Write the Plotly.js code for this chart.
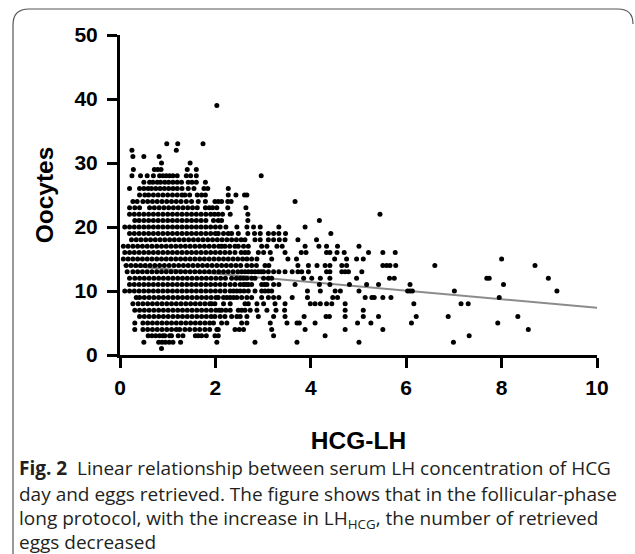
<!DOCTYPE html>
<html>
<head>
<meta charset="utf-8">
<script src="https://cdn.plot.ly/plotly-3.0.1.min.js"></script>
<style>html,body{margin:0;padding:0;background:#fff;}</style>
</head>
<body>
<div id="chart" style="width:635px;height:554px;"></div>
<script>
// HCG-day LH (x) values read per oocyte count (y)
const lh_y39 = [2.03];
const lh_y33 = [0.98, 1.21, 1.74];
const lh_y32 = [0.25, 1.18];
const lh_y31 = [0.27, 0.50, 0.82];
const lh_y30 = [0.87, 1.47];
const lh_y29 = [0.28, 0.72, 0.79, 0.86, 1.41, 1.60];
const lh_y28 = [0.25, 0.43, 0.57, 0.70, 0.83, 0.90, 0.97, 1.04, 1.11, 1.20, 1.39, 1.48, 1.60, 2.96];
const lh_y27 = [0.50, 0.62, 0.69, 0.78, 0.85, 0.94, 1.02, 1.11, 1.20, 1.29, 1.43, 1.51, 1.60, 1.79];
const lh_y26 = [0.20, 0.41, 0.50, 0.59, 0.66, 0.75, 0.84, 0.93, 1.02, 1.11, 1.20, 1.30, 1.43, 1.55, 1.76, 1.84, 2.27];
const lh_y25 = [0.41, 0.52, 0.60, 0.70, 0.80, 0.90, 1.00, 1.10, 1.20, 1.30, 1.36, 1.46, 1.62, 1.71, 1.79, 2.27, 2.43, 2.61, 2.66];
const lh_y24 = [0.27, 0.36, 0.48, 0.58, 0.68, 0.78, 0.88, 0.98, 1.08, 1.18, 1.28, 1.39, 1.50, 1.64, 1.79, 1.99, 2.06, 2.13, 2.26, 2.33, 3.67];
const lh_y23 = [0.20, 0.31, 0.41, 0.62, 0.72, 0.82, 0.92, 1.02, 1.12, 1.22, 1.32, 1.42, 1.52, 1.62, 1.79, 1.87, 1.94, 2.03, 2.26, 2.64];
const lh_y22 = [0.20, 0.30, 0.40, 0.50, 0.60, 0.70, 0.80, 0.90, 1.00, 1.10, 1.20, 1.30, 1.40, 1.50, 1.60, 1.70, 1.80, 1.90, 1.98, 2.06, 2.15, 2.31, 2.68, 5.45];
const lh_y21 = [0.31, 0.40, 0.50, 0.60, 0.70, 0.80, 0.90, 1.00, 1.10, 1.20, 1.30, 1.40, 1.50, 1.60, 1.70, 1.80, 1.96, 2.06, 2.13, 2.68, 4.18];
const lh_y20 = [0.10, 0.20, 0.30, 0.40, 0.50, 0.60, 0.70, 0.80, 0.90, 1.00, 1.10, 1.20, 1.30, 1.40, 1.50, 1.60, 1.70, 1.80, 1.90, 2.00, 2.10, 2.22, 2.45, 2.66, 2.80, 2.94, 3.33, 3.88];
const lh_y19 = [0.20, 0.30, 0.40, 0.50, 0.60, 0.70, 0.80, 0.90, 1.00, 1.10, 1.20, 1.30, 1.40, 1.50, 1.60, 1.70, 1.80, 1.90, 2.00, 2.06, 2.17, 2.27, 2.34, 2.48, 2.68, 2.82, 2.94, 3.11, 3.22, 3.33, 3.47, 4.42];
const lh_y18 = [0.24, 0.34, 0.44, 0.54, 0.64, 0.74, 0.84, 0.94, 1.04, 1.14, 1.24, 1.34, 1.44, 1.54, 1.64, 1.74, 1.84, 1.94, 2.04, 2.14, 2.24, 2.34, 2.44, 2.54, 2.62, 2.83, 2.94, 3.11, 3.22, 3.34, 3.46, 3.73, 4.12];
const lh_y17 = [0.07, 0.17, 0.27, 0.37, 0.47, 0.57, 0.67, 0.77, 0.87, 0.97, 1.07, 1.17, 1.27, 1.37, 1.47, 1.57, 1.67, 1.77, 1.87, 1.97, 2.07, 2.13, 2.20, 2.30, 2.41, 2.48, 2.59, 2.69, 2.97, 3.08, 3.29, 3.40, 3.88, 4.17, 4.33, 4.56, 5.01];
const lh_y16 = [0.10, 0.20, 0.30, 0.40, 0.50, 0.60, 0.70, 0.80, 0.90, 1.00, 1.10, 1.20, 1.30, 1.40, 1.50, 1.60, 1.70, 1.80, 1.90, 2.00, 2.10, 2.20, 2.30, 2.41, 2.54, 2.62, 2.69, 2.90, 3.01, 3.15, 3.46, 3.80, 3.90, 4.33, 4.40, 4.55, 4.70, 5.21, 5.51, 5.77];
const lh_y15 = [0.07, 0.17, 0.27, 0.37, 0.47, 0.57, 0.67, 0.77, 0.87, 0.97, 1.07, 1.17, 1.27, 1.37, 1.47, 1.57, 1.67, 1.77, 1.87, 1.97, 2.07, 2.17, 2.27, 2.37, 2.47, 2.57, 2.66, 2.76, 2.87, 3.18, 3.52, 3.70, 4.50, 4.75, 4.96, 5.10, 8.00];
const lh_y14 = [0.13, 0.23, 0.33, 0.43, 0.53, 0.63, 0.73, 0.83, 0.93, 1.03, 1.13, 1.23, 1.33, 1.43, 1.53, 1.63, 1.73, 1.83, 1.93, 2.03, 2.13, 2.23, 2.33, 2.43, 2.53, 2.66, 2.76, 2.86, 3.04, 3.12, 3.73, 3.95, 4.13, 4.30, 4.40, 4.65, 4.75, 5.51, 5.59, 5.66, 5.78, 6.60, 8.70];
const lh_y13 = [0.15, 0.27, 0.37, 0.47, 0.57, 0.67, 0.77, 0.87, 0.97, 1.07, 1.17, 1.27, 1.37, 1.47, 1.57, 1.67, 1.77, 1.87, 1.97, 2.07, 2.17, 2.27, 2.37, 2.47, 2.55, 2.62, 2.69, 2.76, 2.83, 2.90, 2.96, 3.01, 3.11, 3.22, 3.33, 3.46, 3.61, 3.73, 3.81, 3.95, 4.33, 4.40, 4.65, 4.72, 4.79, 5.07];
const lh_y12 = [0.20, 0.31, 0.41, 0.51, 0.61, 0.71, 0.81, 0.91, 1.01, 1.11, 1.21, 1.31, 1.41, 1.51, 1.61, 1.71, 1.81, 1.91, 2.01, 2.11, 2.21, 2.34, 2.44, 2.52, 2.59, 2.66, 2.76, 2.83, 3.01, 3.11, 3.18, 3.85, 4.02, 4.20, 4.40, 4.96, 5.65, 5.75, 7.69, 7.74, 8.98];
const lh_y11 = [0.20, 0.30, 0.40, 0.50, 0.60, 0.70, 0.80, 0.90, 1.00, 1.10, 1.20, 1.30, 1.40, 1.50, 1.60, 1.70, 1.80, 1.90, 2.00, 2.10, 2.20, 2.31, 2.41, 2.52, 2.59, 2.64, 2.69, 2.76, 2.97, 3.03, 3.08, 3.22, 3.33, 3.67, 4.18, 4.40, 4.81, 5.17, 5.42, 6.08, 8.04];
const lh_y10 = [0.10, 0.20, 0.30, 0.40, 0.50, 0.60, 0.70, 0.80, 0.90, 1.00, 1.10, 1.20, 1.30, 1.40, 1.50, 1.60, 1.70, 1.80, 1.90, 2.00, 2.10, 2.20, 2.31, 2.38, 2.45, 2.52, 2.60, 2.69, 2.83, 2.97, 3.04, 3.11, 3.18, 3.93, 4.20, 4.51, 4.62, 5.01, 6.03, 6.08, 6.13, 7.01, 9.16];
const lh_y9 = [0.34, 0.41, 0.51, 0.61, 0.71, 0.81, 0.91, 1.01, 1.11, 1.21, 1.31, 1.41, 1.51, 1.61, 1.71, 1.81, 1.91, 2.01, 2.06, 2.17, 2.24, 2.31, 2.38, 2.45, 2.55, 2.66, 2.76, 2.97, 3.11, 3.22, 3.33, 3.61, 3.93, 4.46, 4.56, 5.14, 5.28, 5.33, 5.51, 5.68, 7.95];
const lh_y8 = [0.27, 0.38, 0.48, 0.58, 0.68, 0.78, 0.88, 0.98, 1.08, 1.18, 1.28, 1.38, 1.48, 1.58, 1.68, 1.78, 1.88, 1.92, 1.99, 2.17, 2.31, 2.62, 2.69, 2.87, 3.01, 3.25, 3.46, 3.99, 4.09, 4.20, 4.33, 4.44, 4.72, 6.16, 7.15, 7.30];
const lh_y7 = [0.31, 0.41, 0.51, 0.61, 0.71, 0.81, 0.91, 1.01, 1.11, 1.21, 1.31, 1.41, 1.51, 1.61, 1.71, 1.81, 1.91, 2.01, 2.08, 2.13, 2.22, 2.31, 2.48, 2.55, 2.62, 2.73, 2.87, 3.08, 3.27, 3.45, 4.72, 5.10];
const lh_y6 = [0.41, 0.51, 0.61, 0.71, 0.81, 0.91, 1.01, 1.11, 1.21, 1.31, 1.41, 1.51, 1.61, 1.71, 1.81, 1.91, 1.99, 2.10, 2.20, 2.34, 2.45, 2.52, 2.66, 2.90, 3.22, 3.46, 3.86, 4.32, 4.39, 4.72, 5.10, 5.42, 6.21, 6.88, 8.34];
const lh_y5 = [0.31, 0.48, 0.58, 0.68, 0.78, 0.88, 0.98, 1.08, 1.18, 1.28, 1.38, 1.48, 1.58, 1.68, 1.78, 1.88, 1.96, 2.13, 2.24, 2.55, 2.66, 3.15, 3.50, 3.71, 3.76, 4.09, 4.98, 5.26, 6.11, 7.92];
const lh_y4 = [0.31, 0.48, 0.58, 0.68, 0.78, 0.88, 0.98, 1.08, 1.18, 1.25, 1.36, 1.46, 1.57, 1.67, 1.78, 1.88, 2.03, 2.06, 2.41, 2.50, 2.59, 3.18, 3.88, 4.72, 5.51, 8.56];
const lh_y3 = [0.59, 0.67, 0.75, 0.83, 0.90, 0.94, 1.04, 1.08, 1.22, 1.32, 1.58, 1.64, 1.71, 1.81, 1.99, 2.06, 3.22, 4.30, 7.32];
const lh_y2 = [0.50, 0.81, 0.88, 0.95, 1.03, 1.11, 1.27, 2.03, 2.83, 3.71, 5.01, 6.99];
const lh_y1 = [0.87];

const oocyteCounts = [39, 33, 32, 31, 30, 29, 28, 27, 26, 25, 24, 23, 22, 21, 20, 19, 18, 17, 16, 15, 14, 13, 12, 11, 10, 9, 8, 7, 6, 5, 4, 3, 2, 1];
const lhRows = [lh_y39, lh_y33, lh_y32, lh_y31, lh_y30, lh_y29, lh_y28, lh_y27, lh_y26, lh_y25, lh_y24, lh_y23, lh_y22, lh_y21, lh_y20, lh_y19, lh_y18, lh_y17, lh_y16, lh_y15, lh_y14, lh_y13, lh_y12, lh_y11, lh_y10, lh_y9, lh_y8, lh_y7, lh_y6, lh_y5, lh_y4, lh_y3, lh_y2, lh_y1];

// fitted regression line (endpoints)
const fitX = [0.07, 10];
const fitY = [14.02, 7.39];

const xTicks = [0, 2, 4, 6, 8, 10];
const yTicks = [0, 10, 20, 30, 40, 50];

const captionLines = [
  '<b>Fig. 2</b>  Linear relationship between serum LH concentration of HCG',
  'day and eggs retrieved. The figure shows that in the follicular-phase',
  'long protocol, with the increase in LH<sub>HCG</sub>, the number of retrieved',
  'eggs decreased'
];

const ptsX = [], ptsY = [];
lhRows.forEach((row, i) => { row.forEach(v => { ptsX.push(v); ptsY.push(oocyteCounts[i]); }); });

const W = 635, H = 554, L = 120, R = 38, T = 35, B = 199;
const pw = W - L - R, ph = H - T - B;
const px = v => (v - L) / pw;
const py = v => (H - B - v) / ph;

const tickFont = {family: 'Liberation Sans, Arial, sans-serif', size: 21, color: '#000', weight: 'bold'};
const titleFont = {family: 'Liberation Sans, Arial, sans-serif', size: 24.5, color: '#000', weight: 'bold'};

const borderPath = `M ${px(13)} ${py(570)} L ${px(13)} ${py(25)} Q ${px(13)} ${py(9)} ${px(29)} ${py(9)} L ${px(618)} ${py(9)} Q ${px(633)} ${py(9)} ${px(633)} ${py(24)}`;

const capY = [468, 494, 519, 542];
const annotations = captionLines.map((t, i) => ({
  text: t, xref: 'paper', yref: 'paper', x: px(17), y: py(capY[i]),
  xanchor: 'left', yanchor: 'middle', showarrow: false, align: 'left',
  font: {family: 'Open Sans, sans-serif', size: 19, color: '#231f20'}
}));

const data = [
  {x: fitX, y: fitY, type: 'scatter', mode: 'lines',
   line: {color: '#8c8c8c', width: 2}, showlegend: false},
  {x: ptsX, y: ptsY, type: 'scatter', mode: 'markers', cliponaxis: false,
   marker: {color: '#000', size: 5, line: {width: 0}}, hoverinfo: 'x+y', showlegend: false}
];

const layout = {
  width: W, height: H,
  margin: {l: L, r: R, t: T, b: B},
  paper_bgcolor: '#fff', plot_bgcolor: '#fff',
  showlegend: false,
  xaxis: {range: [0, 10], tickvals: xTicks, showgrid: false, zeroline: false,
    showline: true, linecolor: '#000', linewidth: 3, ticks: 'outside', ticklen: 10, tickwidth: 3, tickcolor: '#000',
    tickfont: tickFont, ticklabelstandoff: 2,
    title: {text: 'HCG-LH', font: titleFont, standoff: 34}},
  yaxis: {range: [0, 50], tickvals: yTicks, showgrid: false, zeroline: false,
    showline: true, linecolor: '#000', linewidth: 3, ticks: 'outside', ticklen: 10, tickwidth: 3, tickcolor: '#000',
    tickfont: tickFont, ticklabelstandoff: 5,
    title: {text: 'Oocytes', font: titleFont, standoff: 14}},
  shapes: [{type: 'path', xref: 'paper', yref: 'paper', path: borderPath, line: {color: '#555', width: 1.2}, layer: 'below'}],
  annotations: annotations
};

Plotly.newPlot('chart', data, layout, {displayModeBar: false, staticPlot: true});
</script>
</body>
</html>
